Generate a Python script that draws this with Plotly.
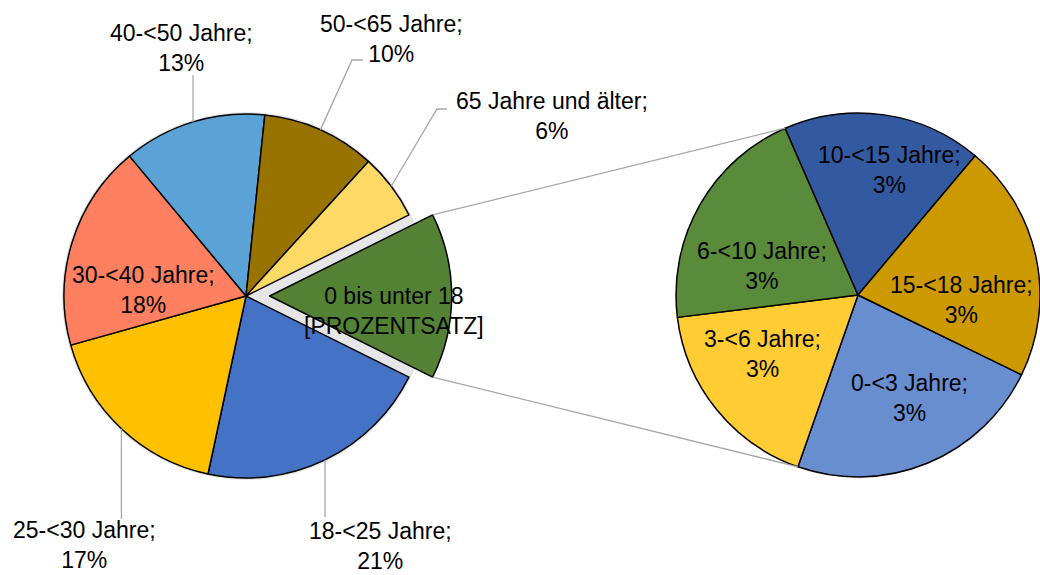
import math
import plotly.graph_objects as go

# ---------------- data ----------------
main_labels = ["18-<25 Jahre", "25-<30 Jahre", "30-<40 Jahre", "40-<50 Jahre",
               "50-<65 Jahre", "65 Jahre und älter"]
main_values = [21.0, 17.3, 18.3, 12.7, 10.1, 5.9]
other_label = "0 bis unter 18"
other_value_text = "[PROZENTSATZ]"

sub_labels = ["0-<3 Jahre", "3-<6 Jahre", "6-<10 Jahre", "10-<15 Jahre", "15-<18 Jahre"]
sub_values = [3.4, 2.6, 3.0, 2.6, 3.1]

main_colors = ["#548235", "#4472C4", "#FFC000", "#FF8061", "#5BA3D6", "#997300", "#FFD966"]
sub_colors = ["#698ED0", "#FFCD33", "#5A8B3B", "#335AA1", "#CC9A00"]

# ---------------- layout constants ----------------
W, H = 1040, 575
FONT = "Liberation Sans, Arial, sans-serif"
FS = 23
LINE_COL = "#A6A6A6"
SHADOW_COL = "#E6E6E6"

MX, MY, MR = 246, 296, 182      # main pie centre / radius (px)
PULL = 0.13
SX, SY, SR = 858, 295, 182      # second pie centre / radius (px)
SUB_ROT = 116


def px(x):
    return x / W


def py(y):
    return 1 - y / H


other_value = sum(sub_values)
all_labels = [other_label] + main_labels
all_values = [other_value] + main_values
total = sum(all_values)
main_rot = 90 - 180 * other_value / total

fig = go.Figure()

# soft shadow behind the main pie (fills the gap around the exploded slice)
sh = MR + 2
fig.add_trace(go.Pie(
    labels=all_labels, values=all_values, sort=False, direction="clockwise",
    rotation=main_rot, marker=dict(colors=[SHADOW_COL] * len(all_values),
                                   line=dict(color=SHADOW_COL, width=0)),
    textinfo="none", hoverinfo="skip", showlegend=False,
    domain=dict(x=[px(MX - sh), px(MX + sh)], y=[py(MY + sh), py(MY - sh)]),
))

half = MR * (1 + PULL)
fig.add_trace(go.Pie(
    labels=all_labels, values=all_values, sort=False, direction="clockwise",
    rotation=main_rot, pull=[PULL] + [0] * len(main_values),
    marker=dict(colors=main_colors, line=dict(color="#000000", width=1.5)),
    textinfo="none", hoverinfo="label+percent", showlegend=False,
    domain=dict(x=[px(MX - half), px(MX + half)], y=[py(MY + half), py(MY - half)]),
))
fig.add_trace(go.Pie(
    labels=sub_labels, values=sub_values, sort=False, direction="clockwise",
    rotation=SUB_ROT,
    marker=dict(colors=sub_colors, line=dict(color="#000000", width=1.5)),
    textinfo="none", hoverinfo="label+value", showlegend=False,
    domain=dict(x=[px(SX - SR), min(1.0, px(SX + SR))], y=[py(SY + SR), py(SY - SR)]),
))


def pct(v):
    return f"{round(v / total * 100)}%"


def esc(s):
    return s.replace("<", "&lt;")


# angles (degrees clockwise from 12 o'clock) of main slices
main_ang = {}
a = main_rot
for lab, v in zip(all_labels, all_values):
    span = 360 * v / total
    main_ang[lab] = (a, a + span)
    a += span

sub_ang = {}
a = SUB_ROT
stot = sum(sub_values)
for lab, v in zip(sub_labels, sub_values):
    span = 360 * v / stot
    sub_ang[lab] = (a, a + span)
    a += span


def pt(cx, cy, r, deg):
    t = math.radians(deg)
    return cx + r * math.sin(t), cy - r * math.cos(t)


shapes = []


def line_path(points):
    d = "M " + " L ".join(f"{px(x)},{py(y)}" for x, y in points)
    shapes.append(dict(type="path", path=d, xref="paper", yref="paper",
                       line=dict(color=LINE_COL, width=1.3)))


# main pie labels: (label position px, elbow points towards pie)
main_label_pos = {
    "18-<25 Jahre": (380, 546, [(327, 517)]),
    "25-<30 Jahre": (84, 545, [(123, 519)]),
    "30-<40 Jahre": (143, 290, None),
    "40-<50 Jahre": (181, 48, [(194, 75)]),
    "50-<65 Jahre": (391, 39, [(363, 60), (352, 60)]),
    "65 Jahre und älter": (552, 116, [(447, 109), (437, 109)]),
}

annotations = []
for lab, v in zip(main_labels, main_values):
    x, y, elbow = main_label_pos[lab]
    annotations.append(dict(x=px(x), y=py(y), xref="paper", yref="paper",
                            text=esc(lab) + ";<br>" + pct(v), showarrow=False,
                            xanchor="center", yanchor="middle", align="center",
                            font=dict(family=FONT, size=FS, color="#000000")))
    if elbow:
        s, e = main_ang[lab]
        mx, my = pt(MX, MY, MR, (s + e) / 2)
        if len(elbow) == 1:
            line_path([(mx, elbow[0][1]), (mx, my)])
        else:
            line_path(elbow + [(mx, my)])

# label for the combined slice
annotations.append(dict(x=px(394), y=py(311), xref="paper", yref="paper",
                        text=esc(other_label) + "<br>" + other_value_text, showarrow=False,
                        xanchor="center", yanchor="middle", align="center",
                        font=dict(family=FONT, size=FS, color="#000000")))

sub_label_pos = {
    "0-<3 Jahre": (909, 398),
    "3-<6 Jahre": (762, 354),
    "6-<10 Jahre": (762, 266),
    "10-<15 Jahre": (889, 170),
    "15-<18 Jahre": (961, 300),
}
for lab, v in zip(sub_labels, sub_values):
    x, y = sub_label_pos[lab]
    annotations.append(dict(x=px(x), y=py(y), xref="paper", yref="paper",
                            text=esc(lab) + ";<br>" + pct(v), showarrow=False,
                            xanchor="center", yanchor="middle", align="center",
                            font=dict(family=FONT, size=FS, color="#000000")))

# connector lines between exploded slice and second pie
ocx, ocy = MX + MR * PULL, MY
s, e = main_ang[other_label]
p_top = pt(ocx, ocy, MR, s)
p_bot = pt(ocx, ocy, MR, e)
q_top = pt(SX, SY, SR, sub_ang["6-<10 Jahre"][1])
q_bot = pt(SX, SY, SR, sub_ang["3-<6 Jahre"][0])
line_path([p_top, q_top])
line_path([p_bot, q_bot])

fig.update_layout(
    width=W, height=H, margin=dict(l=0, r=0, t=0, b=0),
    paper_bgcolor="#FFFFFF", plot_bgcolor="#FFFFFF",
    shapes=shapes, annotations=annotations, showlegend=False,
)

fig.write_html("out.html", config={"displayModeBar": False},
               post_script="document.body.style.margin='0';document.body.style.overflow='hidden';")
